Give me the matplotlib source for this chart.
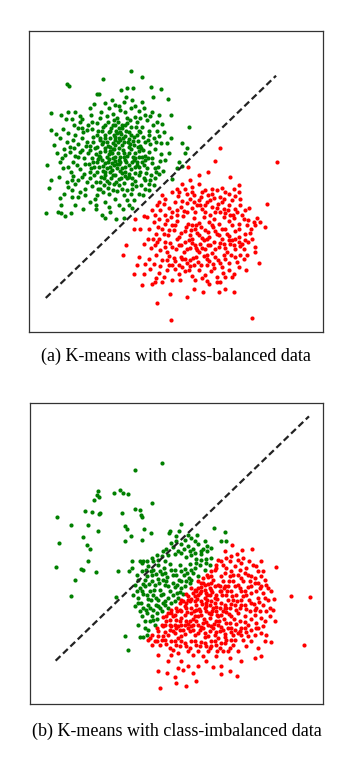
import numpy as np
import matplotlib
matplotlib.use("Agg")
import matplotlib.pyplot as plt

# K-means decision boundary illustration, two panels.
# Point coordinates are feature values
# (arbitrary units, second feature grows downwards).

# ---- panel (a): class-balanced ----
green_a = [
    (316, 138), (349, 157), (232, 162), (127, 176), (133, 182), (377, 187), (407, 192), (305, 190), (287, 195), (322, 190),
    (217, 208), (223, 208), (302, 215), (383, 215), (428, 222), (240, 235), (268, 240), (330, 242), (350, 232), (295, 230),
    (320, 225), (208, 238),
    (78, 265), (108, 270), (130, 262), (150, 262), (165, 272), (198, 270), (228, 262), (250, 250), (262, 268), (285, 255),
    (300, 262), (318, 248), (340, 258), (360, 270), (380, 260), (400, 270), (438, 270), (122, 282), (140, 283), (172, 283),
    (245, 272), (275, 278), (305, 278), (330, 275), (355, 248),
    (78, 315), (92, 328), (115, 312), (148, 300), (160, 308), (188, 300), (215, 295), (232, 305), (248, 290), (262, 300),
    (278, 292), (290, 310), (305, 295), (318, 305), (335, 292), (350, 305), (365, 285), (382, 300), (410, 298), (490, 305),
    (220, 318), (255, 318), (285, 322), (310, 320), (340, 318), (370, 318), (130, 325), (175, 322), (200, 312),
    (88, 360), (105, 340), (125, 350), (145, 345), (170, 338), (185, 352), (205, 335), (225, 345), (240, 330), (255, 340),
    (270, 335), (285, 345), (298, 332), (312, 342), (325, 335), (338, 348), (352, 335), (368, 345), (385, 338), (402, 332),
    (438, 340), (160, 358), (195, 362), (230, 358), (262, 355), (290, 360), (315, 358), (345, 362), (375, 358), (408, 355),
    (245, 350), (275, 325),
    (95, 385), (118, 372), (135, 380), (150, 392), (172, 375), (190, 385), (210, 370), (222, 392), (238, 378), (252, 388),
    (265, 372), (278, 385), (292, 375), (305, 392), (318, 372), (330, 385), (342, 378), (358, 392), (372, 380), (390, 372),
    (408, 388), (430, 385), (470, 355), (485, 368), (480, 385), (110, 398), (200, 398), (262, 398), (330, 398), (380, 398),
    (67, 420), (105, 412), (128, 425), (145, 410), (165, 432), (180, 418), (198, 428), (215, 412), (232, 422), (248, 410),
    (260, 435), (275, 418), (290, 428), (302, 412), (318, 432), (335, 420), (350, 410), (365, 430), (380, 415), (398, 425),
    (412, 438), (462, 410), (470, 422), (455, 430), (240, 440), (300, 440), (345, 440),
    (78, 465), (102, 455), (125, 470), (145, 452), (160, 465), (178, 448), (195, 460), (212, 472), (228, 455), (245, 468),
    (262, 450), (280, 462), (295, 475), (310, 455), (328, 468), (342, 450), (358, 465), (372, 478), (390, 458), (402, 448),
    (440, 462), (150, 478), (235, 480), (265, 478), (320, 478),
    (72, 487), (105, 518), (140, 495), (140, 515), (165, 500), (180, 510), (210, 520), (225, 492), (250, 505), (275, 498),
    (295, 510), (320, 492), (340, 505), (352, 510), (370, 495), (385, 480), (212, 540), (240, 530), (270, 522), (305, 525),
    (325, 525), (118, 505), (180, 490),
    (107, 540), (175, 550), (213, 550), (230, 570), (240, 578), (273, 580), (293, 552), (297, 578), (63, 562), (100, 560),
    (108, 562), (120, 572), (137, 562), (150, 540), (250, 545), (320, 548), (215, 510),
    (250, 320), (265, 330), (280, 340), (295, 350), (310, 365), (255, 365), (270, 360), (285, 395), (300, 405), (245, 395),
    (260, 415), (275, 430), (290, 445), (305, 460), (230, 405), (245, 430), (320, 410), (330, 445), (215, 440), (270, 450),
    (285, 410), (310, 385), (325, 360), (240, 340), (225, 380), (205, 410), (195, 440), (350, 395), (340, 425), (260, 385),
    (235, 460), (300, 300), (280, 310), (265, 285), (315, 285),
    (165, 290), (185, 315), (205, 350), (215, 365), (230, 318), (240, 300), (258, 308), (272, 318), (288, 328), (302, 318),
    (318, 330), (332, 305), (345, 322), (358, 350), (372, 330), (392, 350), (395, 318), (415, 320), (425, 355), (420, 405),
    (405, 408), (392, 440), (378, 450), (362, 445), (355, 420), (340, 395), (328, 425), (312, 448), (298, 425), (282, 418),
    (268, 408), (255, 425), (238, 415), (222, 425), (208, 450), (192, 418), (178, 400), (160, 395), (148, 370), (135, 365),
    (120, 390), (115, 430), (138, 440), (155, 420), (170, 455), (185, 470), (200, 482), (218, 490), (232, 500), (248, 488),
    (262, 495), (280, 480), (290, 490), (305, 495), (318, 505), (332, 482), (348, 480), (360, 490), (375, 465), (388, 428),
    (258, 458), (272, 470), (288, 460), (252, 475), (225, 470), (140, 465), (130, 485), (158, 515), (195, 530), (255, 560),
    (280, 540), (310, 540), (355, 460), (368, 400), (352, 375), (338, 365), (322, 395), (296, 385), (282, 370), (268, 345),
    (254, 378), (240, 368), (226, 340), (212, 388), (196, 375), (182, 362), (165, 380), (150, 330), (172, 310), (200, 290),
    (225, 280), (195, 248), (260, 225), (280, 242), (345, 280), (375, 272), (395, 290),
    (215, 330), (232, 350), (248, 362), (262, 372), (278, 352), (292, 340), (308, 352), (322, 348), (336, 330), (250, 402),
    (265, 420), (280, 405), (295, 395), (310, 420), (325, 405), (240, 450), (255, 440), (285, 438), (300, 452), (320, 460),
    (218, 402), (232, 438), (270, 395), (348, 370), (336, 410), (360, 405), (208, 425), (225, 395), (290, 300), (270, 300),
]

red_a = [
    (583, 370), (568, 407), (755, 412), (487, 425), (548, 440), (522, 450), (495, 465), (455, 490), (615, 455), (640, 480),
    (575, 495), (600, 500), (725, 535), (645, 520), (672, 548), (695, 578), (705, 590), (718, 605), (665, 600), (690, 600),
    (660, 625), (650, 655), (688, 665), (700, 712), (690, 680), (662, 735), (625, 745), (600, 790), (580, 800), (627, 800),
    (680, 878), (438, 883), (395, 833), (435, 805), (485, 815), (293, 690), (303, 658), (325, 745), (335, 720), (350, 778),
    (355, 745), (380, 775), (388, 770), (410, 770), (440, 765), (327, 610), (345, 610), (330, 580), (355, 572), (380, 555),
    (410, 510), (400, 530), (390, 570), (532, 800), (505, 790), (550, 775), (575, 770),
    (470, 478), (500, 485), (520, 478), (540, 495), (560, 490), (590, 488), (610, 505), (630, 512), (440, 500), (458, 512),
    (485, 505), (505, 510), (528, 515), (548, 508), (565, 518), (585, 515), (620, 525), (420, 520),
    (395, 540), (415, 535), (432, 548), (450, 530), (468, 545), (485, 532), (500, 548), (515, 538), (530, 552), (545, 530),
    (560, 545), (578, 535), (595, 550), (612, 540), (628, 552), (645, 538), (660, 555), (405, 555), (440, 560), (475, 558),
    (510, 560), (570, 560), (600, 562), (635, 560),
    (365, 575), (385, 590), (402, 580), (420, 595), (438, 575), (455, 588), (472, 572), (488, 595), (505, 578), (520, 592),
    (535, 575), (550, 590), (565, 580), (580, 595), (595, 575), (610, 588), (625, 578), (640, 595), (655, 580), (685, 590),
    (440, 600), (500, 600), (560, 600), (620, 600),
    (370, 612), (392, 625), (410, 610), (428, 630), (445, 615), (462, 635), (480, 618), (495, 630), (510, 612), (522, 628),
    (538, 615), (552, 635), (568, 618), (582, 630), (598, 612), (612, 632), (628, 618), (642, 635), (675, 622), (400, 640),
    (455, 640), (500, 640), (545, 642), (590, 640), (630, 640), (515, 622), (530, 638),
    (355, 655), (378, 668), (395, 650), (418, 665), (435, 652), (452, 672), (468, 658), (485, 670), (500, 652), (512, 668),
    (525, 655), (540, 672), (555, 658), (570, 670), (585, 652), (600, 668), (615, 655), (630, 672), (645, 662), (425, 680),
    (475, 680), (520, 680), (560, 682), (605, 680), (510, 660), (535, 645), (490, 645),
    (340, 695), (370, 700), (392, 690), (410, 705), (430, 692), (450, 708), (468, 695), (485, 712), (502, 698), (518, 710),
    (535, 692), (552, 708), (568, 695), (585, 712), (600, 700), (618, 690), (635, 710), (655, 700), (440, 720), (495, 722),
    (545, 720), (590, 725), (430, 720),
    (375, 730), (400, 742), (425, 735), (460, 745), (480, 738), (500, 752), (520, 735), (540, 750), (558, 738), (575, 755),
    (592, 742), (610, 735), (620, 755), (465, 765), (510, 765), (545, 768), (470, 725),
    (455, 555), (470, 528), (495, 520), (520, 525), (538, 540), (555, 525), (575, 548), (590, 530), (608, 555), (622, 570),
    (650, 570), (668, 585), (678, 610), (660, 645), (640, 612), (620, 645), (605, 625), (590, 610), (575, 625), (562, 605),
    (548, 620), (528, 605), (512, 598), (498, 615), (482, 605), (468, 622), (450, 600), (432, 615), (415, 625), (398, 605),
    (382, 640), (368, 640), (388, 660), (405, 675), (420, 650), (440, 665), (460, 660), (478, 650), (495, 668), (515, 675),
    (530, 668), (548, 660), (565, 650), (580, 665), (595, 655), (610, 645), (625, 660), (640, 650), (655, 672), (668, 650),
    (680, 640), (665, 690), (645, 688), (628, 695), (610, 712), (595, 690), (578, 705), (562, 715), (545, 700), (528, 720),
    (512, 695), (495, 705), (478, 700), (460, 718), (445, 698), (425, 705), (405, 722), (385, 715), (360, 715), (392, 758),
    (415, 755), (450, 730), (490, 735), (530, 758), (565, 728), (600, 755), (640, 725), (585, 770), (420, 570), (460, 500),
    (500, 500), (530, 500), (560, 505), (595, 520), (640, 500), (625, 490), (480, 490), (505, 530), (525, 538), (555, 570),
    (585, 560), (615, 568), (540, 560), (485, 560), (455, 570), (425, 585), (545, 690), (505, 720), (470, 700),
]

boundary_a = [(62, 818), (752, 152)]

# ---- panel (b): class-imbalanced ----
green_b = [
    (410, 205), (330, 227), (218, 290), (215, 300), (222, 308), (207, 316), (268, 295), (285, 287), (295, 295), (310, 298),
    (380, 325), (180, 350), (202, 352), (222, 358), (225, 355), (290, 355), (330, 342), (345, 345), (348, 362), (350, 368),
    (97, 368), (137, 390), (190, 390), (300, 395), (305, 403), (358, 403), (378, 415), (220, 408), (175, 428), (185, 450),
    (195, 462), (103, 445), (318, 425), (300, 440), (350, 435), (93, 517), (168, 522), (173, 525), (213, 531), (190, 498),
    (150, 556), (137, 605), (272, 608), (280, 530), (313, 528), (320, 498), (345, 500), (355, 498), (300, 725), (310, 767),
    (345, 728), (355, 728), (568, 400), (600, 412), (603, 440), (590, 440), (468, 388), (463, 408), (435, 408), (432, 415),
    (490, 420), (517, 420),
    (440, 445), (455, 440), (470, 448), (490, 455), (505, 462), (520, 448), (535, 462), (548, 470), (560, 460), (415, 470),
    (430, 480), (450, 478), (470, 475), (485, 488), (500, 480), (515, 492), (528, 478), (545, 492), (558, 490), (400, 495),
    (385, 500), (420, 498),
    (350, 530), (370, 515), (385, 525), (400, 512), (418, 520), (435, 508), (450, 525), (465, 512), (480, 522), (495, 508),
    (510, 520), (525, 510), (540, 525), (365, 545), (380, 540), (398, 552), (412, 538), (428, 548), (445, 540), (462, 555),
    (478, 540), (492, 550), (505, 535), (520, 545), (340, 555), (355, 568),
    (345, 580), (360, 575), (375, 588), (390, 572), (405, 585), (420, 570), (435, 590), (450, 578), (465, 592), (480, 575),
    (495, 565), (325, 600), (340, 610), (355, 598), (370, 612), (385, 600), (400, 615), (415, 598), (430, 610), (445, 600),
    (460, 610), (475, 598), (335, 590), (380, 560), (425, 560), (470, 560),
    (340, 625), (355, 640), (370, 630), (385, 645), (400, 635), (415, 625), (430, 640), (365, 655), (380, 665), (395, 655),
    (410, 650), (375, 680), (390, 690), (360, 700), (370, 705), (385, 675), (345, 650),
    (380, 490), (395, 480), (410, 485), (425, 462), (445, 458), (460, 468), (478, 462), (495, 470), (512, 475), (530, 468),
    (548, 455), (540, 440), (510, 440), (480, 435), (455, 425), (500, 430), (362, 525), (378, 530), (392, 538), (405, 528),
    (422, 535), (438, 525), (455, 540), (470, 530), (488, 535), (500, 525), (515, 505), (530, 495), (545, 505), (555, 510),
    (360, 555), (372, 568), (388, 585), (402, 565), (415, 555), (430, 575), (445, 565), (458, 570), (470, 580), (485, 560),
    (500, 555), (330, 570), (350, 590), (365, 600), (378, 615), (392, 610), (408, 602), (422, 618), (438, 625), (452, 618),
    (458, 595), (330, 635), (348, 625), (362, 645), (375, 640), (392, 630), (405, 640), (420, 632), (350, 665), (360, 680),
    (395, 672), (340, 690), (365, 720), (350, 505), (365, 500), (335, 540), (320, 520),
]

red_b = [
    (623, 450), (652, 465), (682, 463), (637, 478), (603, 490), (710, 500), (755, 517), (800, 605), (855, 608), (838, 752),
    (720, 555), (730, 580), (748, 612), (735, 640), (752, 680), (738, 742), (710, 785), (690, 790), (615, 830), (638, 845),
    (590, 838), (565, 818), (515, 858), (483, 875), (405, 880), (398, 828), (428, 835), (450, 848), (460, 820), (475, 825),
    (490, 815), (370, 735), (380, 752), (400, 780), (440, 780), (550, 770), (578, 768), (610, 768), (655, 735), (680, 740),
    (700, 700), (720, 740), (725, 720),
    (580, 495), (595, 510), (615, 500), (630, 515), (650, 505), (665, 520), (685, 510), (700, 530), (560, 530), (575, 520),
    (600, 535), (620, 528), (640, 540), (660, 535), (680, 545), (548, 540), (590, 545),
    (520, 560), (535, 550), (550, 568), (565, 555), (580, 572), (595, 560), (610, 575), (625, 558), (640, 572), (655, 560),
    (670, 578), (690, 565), (705, 580), (500, 580), (515, 590), (530, 578), (545, 595), (560, 585), (575, 600), (590, 588),
    (605, 600), (620, 590), (635, 600), (650, 590), (665, 602), (680, 595), (700, 610), (715, 595), (485, 598),
    (470, 615), (485, 625), (500, 612), (515, 630), (530, 618), (545, 635), (560, 620), (575, 638), (590, 625), (605, 640),
    (620, 628), (635, 645), (650, 630), (665, 642), (680, 625), (695, 640), (715, 630), (455, 640), (470, 650), (485, 640),
    (500, 655), (515, 645), (530, 660), (545, 648), (560, 658), (575, 650), (590, 662), (605, 652), (620, 665), (640, 655),
    (660, 665), (690, 660), (725, 650), (440, 655), (425, 665),
    (410, 690), (425, 680), (440, 695), (455, 675), (470, 690), (485, 678), (500, 695), (515, 680), (530, 698), (545, 682),
    (560, 695), (575, 680), (590, 698), (605, 685), (620, 700), (635, 688), (650, 700), (670, 690), (695, 685), (715, 695),
    (400, 710), (420, 712), (435, 705), (450, 715), (465, 705), (480, 718), (495, 708), (510, 720), (525, 705), (540, 715),
    (555, 708), (570, 720), (585, 710), (600, 718), (618, 712), (640, 715), (665, 712),
    (375, 730), (395, 740), (410, 735), (425, 748), (440, 738), (455, 752), (470, 740), (485, 755), (500, 738), (515, 750),
    (530, 742), (545, 755), (560, 740), (575, 752), (590, 745), (605, 735), (625, 750), (445, 765), (490, 768), (520, 770),
    (460, 730), (540, 728), (580, 730),
    (520, 600), (540, 610), (555, 600), (510, 620), (545, 625), (565, 640), (500, 640), (520, 665), (555, 670), (580, 665),
    (600, 640), (570, 610), (610, 615), (535, 700), (480, 660), (600, 575), (625, 615), (650, 615), (455, 700), (505, 690),
    (415, 668), (440, 645), (465, 625), (490, 605), (510, 585), (530, 565), (550, 548), (570, 525),
    (590, 500), (605, 520), (625, 540), (645, 525), (670, 540), (690, 550), (710, 545), (700, 565), (680, 575), (660, 590),
    (645, 580), (630, 575), (612, 560), (598, 580), (585, 590), (570, 575), (555, 580), (540, 585), (525, 595), (510, 605),
    (495, 620), (480, 635), (465, 645), (450, 660), (435, 675), (420, 690), (435, 690), (450, 690), (465, 680), (480, 690),
    (495, 680), (510, 665), (525, 650), (540, 640), (555, 630), (570, 625), (585, 640), (600, 630), (615, 640), (630, 630),
    (645, 640), (660, 630), (675, 650), (690, 645), (705, 650), (720, 610), (710, 670), (695, 700), (680, 705), (660, 700),
    (645, 710), (625, 720), (610, 700), (595, 705), (580, 690), (565, 700), (550, 690), (535, 685), (520, 690), (505, 705),
    (490, 700), (475, 705), (460, 695), (445, 710), (430, 720), (415, 725), (400, 725), (390, 740), (405, 750), (420, 735),
    (435, 760), (450, 740), (465, 755), (480, 745), (495, 760), (510, 740), (525, 755), (540, 745), (555, 760), (570, 740),
    (585, 760), (600, 745), (615, 760), (630, 735), (650, 720), (670, 725), (690, 720), (710, 715), (720, 680), (735, 665),
    (745, 645), (730, 615), (740, 590), (725, 570), (715, 530), (695, 515), (672, 500), (655, 490), (640, 495), (620, 485),
    (600, 470), (575, 510), (560, 545), (535, 565), (520, 580), (505, 595), (490, 615), (475, 620), (458, 650), (445, 665),
    (430, 655), (415, 695), (395, 700), (380, 720), (460, 775), (505, 780), (535, 785), (560, 755), (595, 770), (640, 770),
    (665, 755), (700, 760), (575, 785), (615, 790), (650, 800), (470, 800), (430, 800), (520, 815), (545, 800), (590, 815),
    (505, 835), (455, 865),
    (528, 588), (548, 602), (562, 592), (578, 612), (592, 602), (608, 590), (622, 605), (638, 618), (655, 605), (672, 615),
    (688, 628), (702, 622), (518, 612), (533, 628), (548, 615), (563, 650), (578, 660), (595, 648), (612, 658), (628, 672),
    (645, 678), (662, 682), (678, 672), (508, 650), (522, 642), (538, 672), (552, 655), (568, 688), (583, 678), (598, 672),
    (615, 685), (632, 705), (490, 688), (505, 672), (470, 670), (488, 652), (520, 715), (550, 725), (575, 712), (600, 728),
    (620, 735), (470, 725), (540, 570), (560, 565), (585, 575), (615, 545), (650, 550), (675, 560), (695, 590), (710, 575),
]

boundary_b = [(92, 798), (853, 65)]

captions = ["(a) K-means with class-balanced data", "(b) K-means with class-imbalanced data"]

panels = [
    (green_a, red_a, boundary_a, (12, 893), (920, 18), [0.081, 0.566, 0.819, 0.3935], -0.08),
    (green_b, red_b, boundary_b, (15, 895), (928, 25), [0.0836, 0.0797, 0.816, 0.3935], -0.09),
]

fig = plt.figure(figsize=(3.59, 7.65), dpi=100)

for (green, red, boundary, xlim, ylim, rect, cap_y), caption in zip(panels, captions):
    ax = fig.add_axes(rect)
    g = np.array(green)
    r = np.array(red)
    ax.scatter(g[:, 0], g[:, 1], s=9, c="green", linewidths=0)
    ax.scatter(r[:, 0], r[:, 1], s=9, c="red", linewidths=0)
    b = np.array(boundary)
    ax.plot(b[:, 0], b[:, 1], color="#222222", lw=1.6, dashes=(3, 1.6))
    ax.set_xlim(xlim)
    ax.set_ylim(ylim)
    ax.set_xticks([])
    ax.set_yticks([])
    for sp in ax.spines.values():
        sp.set_color("#333333")
        sp.set_linewidth(0.9)
    # caption under each panel
    ax.text(0.5, cap_y, caption, transform=ax.transAxes, ha="center", va="center",
            family="Liberation Serif", fontsize=13)

fig.savefig("out.png", dpi=100)
